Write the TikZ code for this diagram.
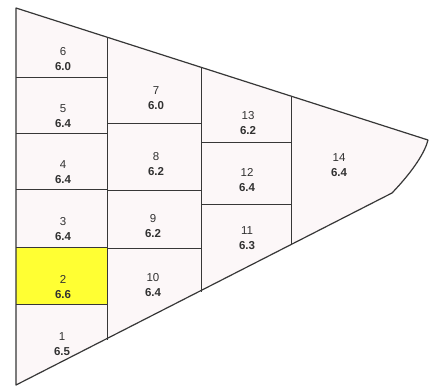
\documentclass[tikz,border=0pt]{standalone}
\usepackage{fontspec}
\setmainfont{Liberation Sans}
\definecolor{plotfill}{RGB}{252,247,248}
\definecolor{plotline}{RGB}{55,55,55}
\definecolor{plotyellow}{RGB}{255,255,51}
\definecolor{plottext}{RGB}{50,50,50}
\tikzset{
  border/.style={draw=plotline, line width=1.2pt, line join=round},
  divider/.style={draw=plotline, line width=1.0pt},
  plotlabel/.style={align=center, text=plottext, font=\fontsize{11.5}{15.5}\selectfont, inner sep=0pt},
}
\newcommand{\plotlbl}[2]{#1\\\textbf{#2}}
\begin{document}
\begin{tikzpicture}[x=1pt,y=-1pt]
\useasboundingbox (0,0) rectangle (429,386);
\fill[white] (0,0) rectangle (429,386);
% corner coordinates
\coordinate (TL) at (16,8);
\coordinate (BL) at (16,385);
\coordinate (Tip) at (428,140);
\coordinate (BR) at (392,193);
\coordinate (T2) at (107,37.2);
\coordinate (T3) at (201,67.3);
\coordinate (T4) at (291,96.1);
\coordinate (B2) at (107,339.5);
\coordinate (B3) at (201,292);
\coordinate (B4) at (291,245);
% field fill
\fill[plotfill] (TL) -- (Tip) .. controls (425,152) and (414,170) .. (BR) -- (BL) -- cycle;
% highlighted plot 2
\fill[plotyellow] (16,247) rectangle (107,304);
% column dividers
\draw[divider] (T2) -- (B2);
\draw[divider] (T3) -- (B3);
\draw[divider] (T4) -- (B4);
% row dividers column 1
\draw[divider] (16,77) -- (107,77);
\draw[divider] (16,133) -- (107,133);
\draw[divider] (16,189) -- (107,189);
\draw[divider] (16,247) -- (107,247);
\draw[divider] (16,304) -- (107,304);
% column 2
\draw[divider] (107,123) -- (201,123);
\draw[divider] (107,190) -- (201,190);
\draw[divider] (107,248) -- (201,248);
% column 3
\draw[divider] (201,142) -- (291,142);
\draw[divider] (201,204) -- (291,204);
% outline
\draw[border] (TL) -- (Tip) .. controls (425,152) and (414,170) .. (BR) -- (BL) -- cycle;
% labels
\node[plotlabel] (p6) at (63,59) {\plotlbl{6}{6.0}};
\node[plotlabel] (p5) at (63,116) {\plotlbl{5}{6.4}};
\node[plotlabel] (p4) at (63,172) {\plotlbl{4}{6.4}};
\node[plotlabel] (p3) at (63,229) {\plotlbl{3}{6.4}};
\node[plotlabel] (p2) at (63,287) {\plotlbl{2}{6.6}};
\node[plotlabel] (p1) at (62,344) {\plotlbl{1}{6.5}};
\node[plotlabel] (p7) at (156,98) {\plotlbl{7}{6.0}};
\node[plotlabel] (p8) at (156,164) {\plotlbl{8}{6.2}};
\node[plotlabel] (p9) at (153,226) {\plotlbl{9}{6.2}};
\node[plotlabel] (p10) at (153,285) {\plotlbl{10}{6.4}};
\node[plotlabel] (p13) at (248,123) {\plotlbl{13}{6.2}};
\node[plotlabel] (p12) at (247,180) {\plotlbl{12}{6.4}};
\node[plotlabel] (p11) at (247,238) {\plotlbl{11}{6.3}};
\node[plotlabel] (p14) at (339,165) {\plotlbl{14}{6.4}};
\end{tikzpicture}
\end{document}
